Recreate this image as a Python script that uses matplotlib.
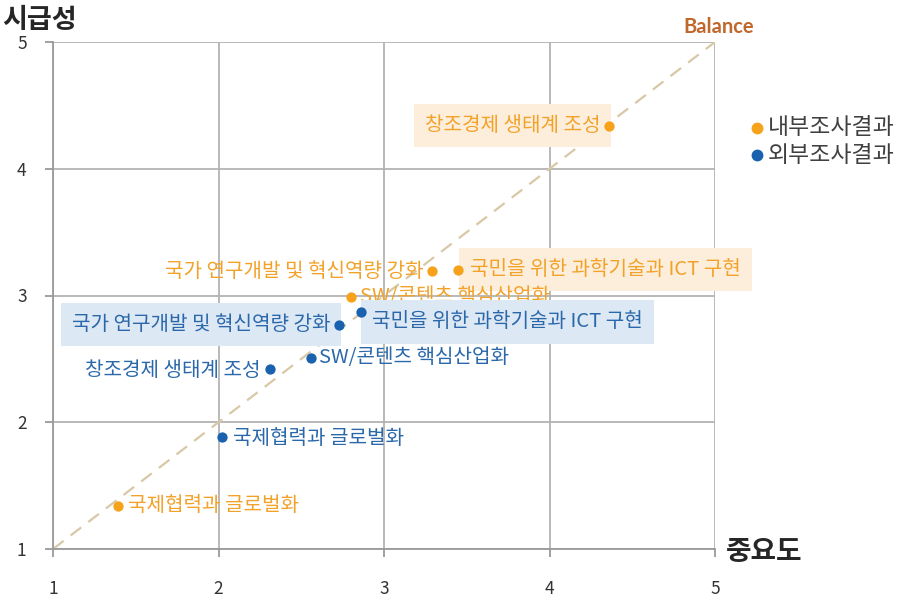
import matplotlib
matplotlib.use("Agg")
import matplotlib.pyplot as plt

plt.rcParams['font.family'] = ['Noto Sans CJK KR', 'DejaVu Sans']

# 중요도(x) / 시급성(y) 평가 결과
items = ["창조경제 생태계 조성", "국민을 위한 과학기술과 ICT 구현",
         "국가 연구개발 및 혁신역량 강화", "SW/콘텐츠 핵심산업화", "국제협력과 글로벌화"]
internal_x = [4.36, 3.45, 3.29, 2.80, 1.39]
internal_y = [4.34, 3.20, 3.19, 2.99, 1.34]
external_x = [2.31, 2.86, 2.73, 2.56, 2.02]
external_y = [2.42, 2.87, 2.77, 2.51, 1.88]
series_names = ["내부조사결과", "외부조사결과"]
ticks = [1, 2, 3, 4, 5]

ORANGE = "#f7a21b"
ORANGE_TXT = "#f2a229"
BLUE = "#1a62ad"
BLUE_TXT = "#2a68aa"
PEACH = "#fdeedc"
LIGHTBLUE = "#dde8f5"

fig = plt.figure(figsize=(9.05, 6.0), dpi=100)
ax = fig.add_axes([53/905, 1-549/600, (715-53)/905, (549-42)/600])
ax.set_xlim(1, 5)
ax.set_ylim(1, 5)
ax.set_xticks(ticks)
ax.set_yticks(ticks)
ax.grid(True, color="#b3b3b3", linewidth=1.3, zorder=0)
ax.set_axisbelow(True)
for s in ("top", "right"):
    ax.spines[s].set_visible(False)
for s in ("left", "bottom"):
    ax.spines[s].set_color("#9a9a9a")
    ax.spines[s].set_linewidth(1.3)
ax.tick_params(axis="both", colors="#9a9a9a", length=6, width=1.3,
               labelcolor="#333333", labelsize=12.5)
ax.tick_params(axis="x", pad=16)
ax.tick_params(axis="y", pad=13)

# balance line
ax.plot([1, 5], [1, 5], color="#d8c8a6", linestyle=(0, (6, 4)), linewidth=1.6, zorder=1)
fig.text(683/905, 1-27/600, "Balance", color="#c0672b", fontsize=14.5,
         fontweight="bold", va="center", ha="left", family=["Lato", "DejaVu Sans"])

ax.scatter(internal_x, internal_y, s=55, color=ORANGE, zorder=5, linewidths=0)
ax.scatter(external_x, external_y, s=55, color=BLUE, zorder=5, linewidths=0)

# (offset px, align, boxed)
internal_lab = [((-9, 0), "right", True), ((12, 1), "left", True),
                ((-8, 0), "right", False), ((9, 0), "left", False),
                ((10, 0), "left", False)]
external_lab = [((-9, -1), "right", False), ((11, -10), "left", True),
                ((-9, 0), "right", True), ((8, 0), "left", False),
                ((11, -1), "left", False)]

def put_labels(xs, ys, specs, color, boxcolor):
    for name, x, y, (off, ha, boxed) in zip(items, xs, ys, specs):
        kw = {}
        if boxed:
            kw["bbox"] = dict(boxstyle="square,pad=0.55", facecolor=boxcolor,
                              edgecolor="none")
        ax.annotate(name, (x, y), xytext=off, textcoords="offset pixels",
                    ha=ha, va="center", color=color, fontsize=14.5,
                    zorder=3, **kw)

put_labels(internal_x, internal_y, internal_lab, ORANGE_TXT, PEACH)
put_labels(external_x, external_y, external_lab, BLUE_TXT, LIGHTBLUE)

# axis titles
fig.text(2/905, 1-20/600, "시급성", fontsize=19.5, fontweight="bold",
         color="#262626", va="center", ha="left")
fig.text(726/905, 1-552/600, "중요도", fontsize=20, fontweight="bold",
         color="#262626", va="center", ha="left")

# legend
for i, (name, col) in enumerate(zip(series_names, [ORANGE, BLUE])):
    yy = 1 - (128 + 27*i)/600
    fig.lines.append(plt.Line2D([757/905], [yy], marker="o", markersize=7.5,
                                color=col, linestyle="none", transform=fig.transFigure))
    fig.text(768/905, yy, name, fontsize=16.5, color="#404040", va="center", ha="left")

fig.savefig("out.png", dpi=100)
